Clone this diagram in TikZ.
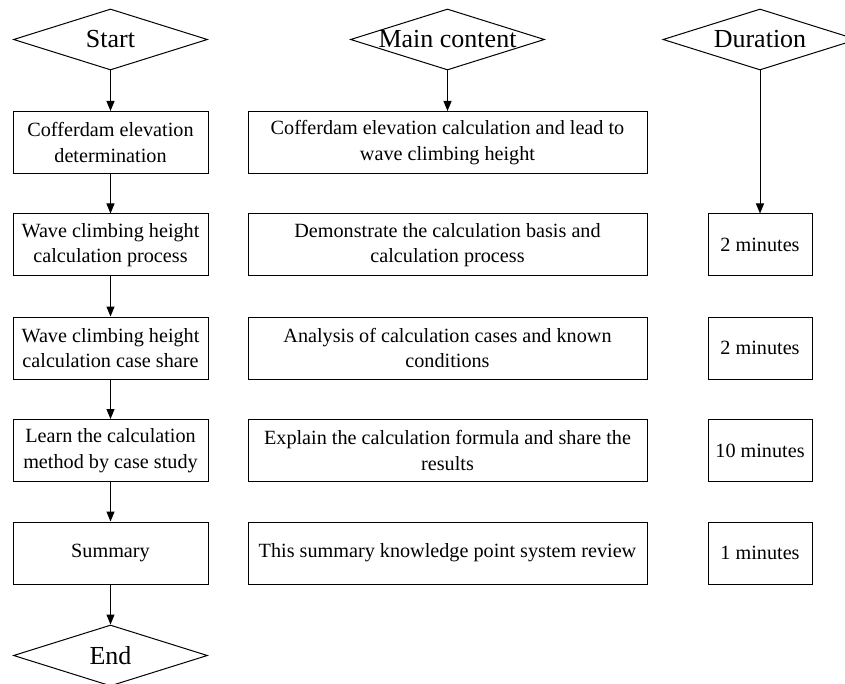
\documentclass[tikz,border=0pt]{standalone}
\usepackage{fontspec}
\setmainfont{Liberation Serif}
\usetikzlibrary{shapes.geometric,arrows.meta}
\begin{document}
\begin{tikzpicture}[x=1pt,y=-1pt,
  box/.style={draw, line width=1pt, minimum height=62pt, inner sep=0pt, align=center, font=\fontsize{20.2}{25.7}\selectfont},
  lbox/.style={box, minimum width=195pt},
  mbox/.style={box, minimum width=399pt},
  rbox/.style={box, minimum width=104pt},
  dia/.style={draw, diamond, line width=1pt, minimum width=194pt, minimum height=61pt, inner sep=0pt},
  dtext/.style={font=\fontsize{26}{30}\selectfont, inner sep=0pt},
  arr/.style={-{Triangle[length=10pt,width=8pt]}, line width=1pt}
]
\useasboundingbox (0,0) rectangle (845,684);
% diamonds
\node[dia] (start) at (110.5,39.5) {};
\node[dtext] (starttxt) at (start.center) {Start};
\node[dia] (main) at (447.5,39.5) {};
\node[dtext] (maintxt) at (main.center) {Main content};
\node[dia] (dur) at (760,39.5) {};
\node[dtext] (durtxt) at (dur.center) {Duration};
\node[dia] (end) at (110.5,655.5) {};
\node[dtext] (endtxt) at (end.center) {End};
% left column
\node[lbox] (l1) at (110.5,142.5) {Cofferdam elevation\\determination};
\node[lbox] (l2) at (110.5,245) {Wave climbing height\\calculation process};
\node[lbox] (l3) at (110.5,348) {Wave climbing height\\calculation case share};
\node[lbox] (l4) at (110.5,450.5) {Learn the calculation\\method by case study};
\node[lbox] (l5) at (110.5,553) {Summary};
% middle column
\node[mbox] (m1) at (447.5,142.5) {Cofferdam elevation calculation and lead to\\wave climbing height};
\node[mbox] (m2) at (447.5,245) {Demonstrate the calculation basis and\\calculation process};
\node[mbox] (m3) at (447.5,348) {Analysis of calculation cases and known\\conditions};
\node[mbox] (m4) at (447.5,450.5) {Explain the calculation formula and share the\\results};
\node[mbox] (m5) at (447.5,553) {This summary knowledge point system review};
% right column
\node[rbox] (r2) at (760,245) {2 minutes};
\node[rbox] (r3) at (760,348) {2 minutes};
\node[rbox] (r4) at (760,450.5) {10 minutes};
\node[rbox] (r5) at (760,553) {1 minutes};
% arrows
\draw[arr] (start.south) -- (l1.north);
\draw[arr] (l1.south) -- (l2.north);
\draw[arr] (l2.south) -- (l3.north);
\draw[arr] (l3.south) -- (l4.north);
\draw[arr] (l4.south) -- (l5.north);
\draw[arr] (l5.south) -- (end.north);
\draw[arr] (main.south) -- (m1.north);
\draw[arr] (dur.south) -- (r2.north);
\end{tikzpicture}
\end{document}
